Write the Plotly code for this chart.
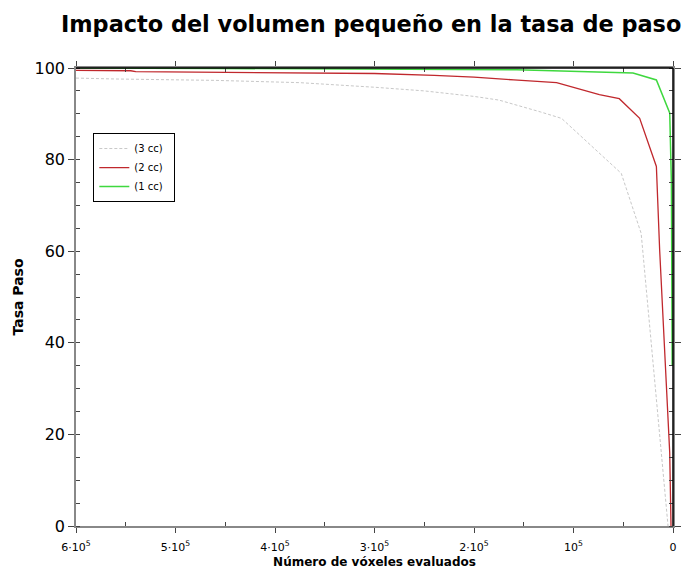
import plotly.graph_objects as go

# Data
x_3cc = [600000, 560000, 460000, 375000, 300000, 250000, 200000, 175000, 133000, 112000, 52000, 32000, 5000]
y_3cc = [97.8, 97.6, 97.3, 96.8, 95.8, 95.0, 93.8, 93.0, 90.4, 89.0, 77.0, 63.9, 0.0]

x_2cc = [600000, 545000, 540000, 460000, 420000, 300000, 240000, 200000, 160000, 117000, 74000, 54000, 33500, 16700, 13400, 7000, 3300, 2000]
y_2cc = [99.5, 99.4, 99.2, 99.1, 98.9, 98.8, 98.4, 98.0, 97.4, 96.8, 94.2, 93.3, 89.0, 78.5, 60.2, 34.0, 16.0, 0.0]

x_1cc = [600000, 460000, 455000, 157000, 104000, 40200, 16700, 3300, 1600, 1200, 1000, 800]
y_1cc = [100.0, 100.0, 99.9, 99.6, 99.3, 98.9, 97.4, 90.2, 75.0, 62.0, 56.0, 35.0]

x_tickvals = [600000, 500000, 400000, 300000, 200000, 100000, 0]
x_ticktext = ["6·10<sup>5</sup>", "5·10<sup>5</sup>", "4·10<sup>5</sup>", "3·10<sup>5</sup>",
              "2·10<sup>5</sup>", "10<sup>5</sup>", "0"]
y_tickvals = [0, 20, 40, 60, 80, 100]

FONT = "DejaVu Sans"

fig = go.Figure()
fig.add_trace(go.Scatter(x=x_3cc, y=y_3cc, mode="lines", name="(3 cc)  ",
                         line=dict(color="#c8c8c8", width=1, dash="3px,2px")))
fig.add_trace(go.Scatter(x=x_2cc, y=y_2cc, mode="lines", name="(2 cc)  ",
                         line=dict(color="#c0282d", width=1.3)))
fig.add_trace(go.Scatter(x=x_1cc, y=y_1cc, mode="lines", name="(1 cc)  ",
                         line=dict(color="#3fd83f", width=1.5)))

fig.update_layout(
    width=686, height=569,
    margin=dict(l=76, r=13, t=68, b=43),
    paper_bgcolor="white", plot_bgcolor="white",
    font=dict(family=FONT, color="black"),
    title=dict(text="<b>Impacto del volumen pequeño en la tasa de paso</b>",
               x=0.541, xanchor="center", y=0.958, yanchor="middle",
               font=dict(size=22.4, family=FONT, color="black")),
    showlegend=True,
    legend=dict(x=0.029, y=0.858, xanchor="left", yanchor="top",
                bgcolor="white", bordercolor="black", borderwidth=1,
                font=dict(size=10, family=FONT), tracegroupgap=0,
                itemwidth=30),
)

fig.update_xaxes(
    range=[600000, 0], tickvals=x_tickvals, ticktext=x_ticktext,
    automargin=False,
    showgrid=False, zeroline=False,
    showline=True, linecolor="#888888", linewidth=1.5, mirror="ticks",
    ticks="outside", ticklen=5, tickcolor="#444444",
    ticklabelstandoff=5,
    minor=dict(tickvals=[550000, 450000, 350000, 250000, 150000, 50000],
               ticks="inside", ticklen=4, tickcolor="#444444"),
    tickfont=dict(size=11, family=FONT),
    title=dict(text="<b>Número de vóxeles evaluados</b>", font=dict(size=12, family=FONT), standoff=6),
)
fig.update_yaxes(
    range=[0, 100], tickvals=y_tickvals,
    automargin=False,
    showgrid=False, zeroline=False,
    showline=True, linecolor="#888888", linewidth=1.5, mirror="ticks",
    ticks="outside", ticklen=6, tickcolor="#444444",
    minor=dict(dtick=5, ticks="inside", ticklen=4, tickcolor="#444444"),
    tickfont=dict(size=16, family=FONT),
    title=dict(text="<b>Tasa Paso</b>", font=dict(size=14, family=FONT), standoff=8),
)

# black top and right frame lines
fig.add_shape(type="line", xref="paper", yref="paper", x0=0, x1=1, y0=1, y1=1,
              line=dict(color="black", width=1.5))
fig.add_shape(type="line", xref="paper", yref="paper", x0=1, x1=1, y0=0, y1=1,
              line=dict(color="black", width=1.5))

fig.write_html("out.html")
